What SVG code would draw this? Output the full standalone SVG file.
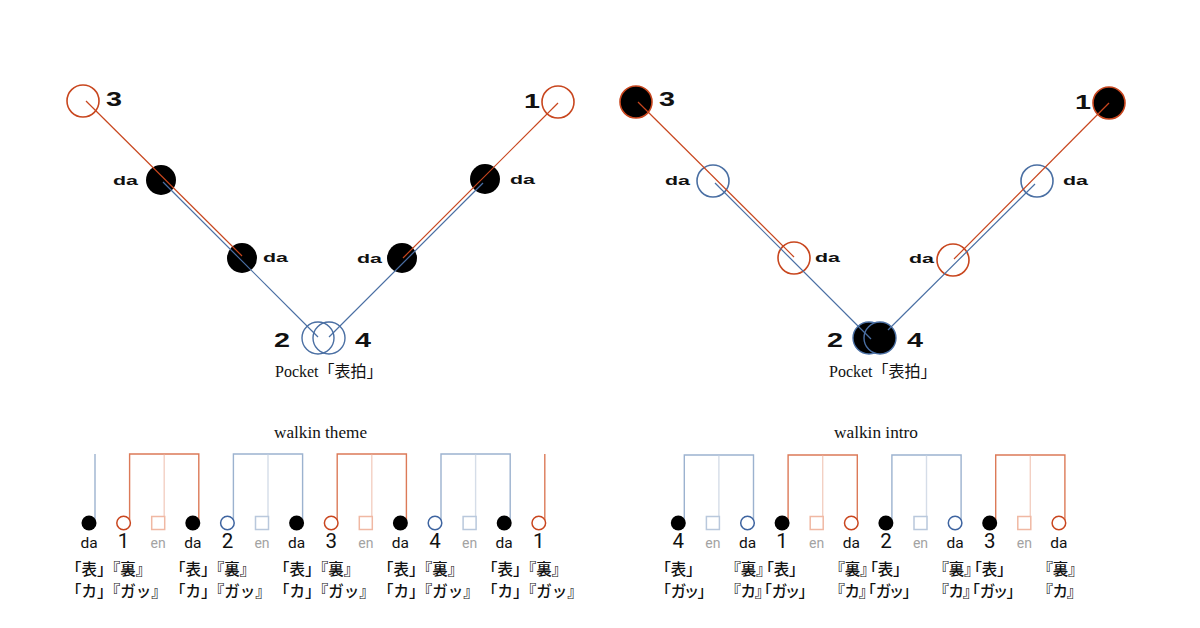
<svg xmlns="http://www.w3.org/2000/svg" width="1200" height="628" viewBox="0 0 1200 628">
<style>
.ol{stroke:#c8461e;stroke-width:1.2;fill:none}
.bl{stroke:#4a6fa3;stroke-width:1.2;fill:none}
.oc{stroke:#c8461e;stroke-width:1.6;fill:#fff}
.ocf{stroke:#c8461e;stroke-width:1.6;fill:#000}
.bc{stroke:#4a6fa3;stroke-width:1.6;fill:#fff}
.bct{stroke:#4a6fa3;stroke-width:1.4;fill:none}
.bcf{stroke:#4a6fa3;stroke-width:1.4;fill:#000}
.dot{fill:#000}
.lbl{font-family:"Liberation Sans",Arial,sans-serif;font-weight:bold;fill:#111}
.da{font-size:13.5px}
.num{font-size:19.5px}
.ser{font-family:"Liberation Serif","Noto Sans CJK JP",serif;font-size:16px;fill:#111}
.tt{font-family:"Liberation Serif",serif;font-size:16px;fill:#111}
.bo{stroke:#dc7a58;stroke-width:1.4;fill:none}
.bom{stroke:#f3d0c3;stroke-width:1.4;fill:none}
.bb{stroke:#9cb2cf;stroke-width:1.4;fill:none}
.bbm{stroke:#d5dde8;stroke-width:1.4;fill:none}
.nd{fill:#000}
.no{stroke:#c9461f;stroke-width:1.5;fill:#fff}
.nb{stroke:#3e64a0;stroke-width:1.5;fill:#fff}
.so{stroke:#f0b8a3;stroke-width:1.5;fill:#fff}
.sb{stroke:#b9c8dc;stroke-width:1.5;fill:#fff}
.t{font-family:Roboto,"Liberation Sans",sans-serif;fill:#111;text-anchor:middle}
.tn{font-size:20.5px}
.td{font-size:15.5px}
.te{font-size:14px;fill:#a3a3a3}
.jp{font-family:"Noto Sans CJK JP",sans-serif;font-size:15.5px;font-weight:500;fill:#111}
.pa{font-feature-settings:"palt"}
</style>

<!-- ===== Upper left diagram ===== -->
<g id="L-n3"><circle class="oc" cx="83" cy="101" r="16"/><text class="lbl num" x="106" y="106" textLength="16" lengthAdjust="spacingAndGlyphs">3</text></g>
<g id="L-da1"><circle class="dot" cx="161" cy="180" r="15"/><text class="lbl da" x="113" y="185" textLength="25" lengthAdjust="spacingAndGlyphs">da</text></g>
<g id="L-da2"><circle class="dot" cx="242" cy="258" r="15"/><text class="lbl da" x="263" y="262" textLength="25" lengthAdjust="spacingAndGlyphs">da</text></g>
<g id="L-da3"><circle class="dot" cx="402" cy="258" r="15"/><text class="lbl da" x="357" y="263" textLength="25" lengthAdjust="spacingAndGlyphs">da</text></g>
<g id="L-da4"><circle class="dot" cx="485" cy="179" r="15"/><text class="lbl da" x="510" y="184" textLength="25" lengthAdjust="spacingAndGlyphs">da</text></g>
<g id="L-n1"><circle class="oc" cx="558" cy="102" r="16"/><text class="lbl num" x="524" y="108" textLength="16" lengthAdjust="spacingAndGlyphs">1</text></g>
<g id="L-pocket">
<circle class="bct" cx="318" cy="338" r="16"/><circle class="bct" cx="329" cy="338" r="16"/>
<text class="lbl num" x="274" y="347" textLength="16" lengthAdjust="spacingAndGlyphs">2</text>
<text class="lbl num" x="355" y="347" textLength="16" lengthAdjust="spacingAndGlyphs">4</text>
<text class="ser" x="275" y="377">Pocket「表拍」</text>
</g>

<!-- ===== Upper right diagram ===== -->
<g id="R-n3"><circle class="ocf" cx="636" cy="102" r="16"/><text class="lbl num" x="659" y="106" textLength="16" lengthAdjust="spacingAndGlyphs">3</text></g>
<g id="R-da1"><circle class="bc" cx="713" cy="181" r="16"/><text class="lbl da" x="665" y="185" textLength="25" lengthAdjust="spacingAndGlyphs">da</text></g>
<g id="R-da2"><circle class="oc" cx="794" cy="258" r="16"/><text class="lbl da" x="815" y="262" textLength="25" lengthAdjust="spacingAndGlyphs">da</text></g>
<g id="R-da3"><circle class="oc" cx="953" cy="260" r="16"/><text class="lbl da" x="909" y="263" textLength="25" lengthAdjust="spacingAndGlyphs">da</text></g>
<g id="R-da4"><circle class="bc" cx="1037" cy="181" r="16"/><text class="lbl da" x="1063" y="185" textLength="25" lengthAdjust="spacingAndGlyphs">da</text></g>
<g id="R-n1"><circle class="ocf" cx="1109" cy="103" r="16"/><text class="lbl num" x="1075" y="109" textLength="16" lengthAdjust="spacingAndGlyphs">1</text></g>
<g id="R-pocket">
<circle class="bcf" cx="869" cy="338" r="16"/><circle class="bcf" cx="880" cy="338" r="16"/>
<text class="lbl num" x="827" y="347" textLength="16" lengthAdjust="spacingAndGlyphs">2</text>
<text class="lbl num" x="907" y="347" textLength="16" lengthAdjust="spacingAndGlyphs">4</text>
<text class="ser" x="829" y="377">Pocket「表拍」</text>
</g>

<!-- ===== Upper connectors ===== -->
<g id="upper-connectors">
<line class="ol" x1="86" y1="101" x2="242" y2="256"/>
<line class="bl" x1="163" y1="182" x2="318" y2="337"/>
<line class="ol" x1="558" y1="103" x2="403" y2="258"/>
<line class="bl" x1="483" y1="183" x2="329" y2="337"/>
<line class="ol" x1="638" y1="102" x2="794" y2="257"/>
<line class="bl" x1="715" y1="183" x2="871" y2="339"/>
<line class="ol" x1="1109" y1="103" x2="954" y2="259"/>
<line class="bl" x1="1035" y1="184" x2="888" y2="330"/>
</g>

<!-- ===== Lower left: walkin theme ===== -->
<text class="tt" x="274" y="438" textLength="93" lengthAdjust="spacingAndGlyphs">walkin theme</text>
<g id="theme-connectors">
<line class="bb" x1="95" y1="454" x2="95" y2="520"/>
<path class="bo" d="M129.6,520V454H198.8V520"/><line class="bom" x1="164.2" y1="454.7" x2="164.2" y2="517"/>
<path class="bb" d="M233.4,520V454H302.6V520"/><line class="bbm" x1="268" y1="454.7" x2="268" y2="517"/>
<path class="bo" d="M337.2,520V454H406.4V520"/><line class="bom" x1="371.8" y1="454.7" x2="371.8" y2="517"/>
<path class="bb" d="M441,520V454H510.2V520"/><line class="bbm" x1="475.6" y1="454.7" x2="475.6" y2="517"/>
<line class="bo" x1="544.8" y1="454" x2="544.8" y2="520"/>
</g>
<g id="theme-n0"><circle class="nd" cx="89" cy="523" r="7.5"/><text class="t td" x="89" y="548">da</text></g>
<g id="theme-n1"><circle class="no" cx="123.6" cy="523" r="6.8"/><text class="t tn" x="123.6" y="548">1</text></g>
<g id="theme-n2"><rect class="so" x="151.7" y="516.5" width="13" height="13"/><text class="t te" x="158.2" y="548">en</text></g>
<g id="theme-n3"><circle class="nd" cx="192.8" cy="523" r="7.5"/><text class="t td" x="192.8" y="548">da</text></g>
<g id="theme-n4"><circle class="nb" cx="227.4" cy="523" r="6.8"/><text class="t tn" x="227.4" y="548">2</text></g>
<g id="theme-n5"><rect class="sb" x="255.5" y="516.5" width="13" height="13"/><text class="t te" x="262" y="548">en</text></g>
<g id="theme-n6"><circle class="nd" cx="296.6" cy="523" r="7.5"/><text class="t td" x="296.6" y="548">da</text></g>
<g id="theme-n7"><circle class="no" cx="331.2" cy="523" r="6.8"/><text class="t tn" x="331.2" y="548">3</text></g>
<g id="theme-n8"><rect class="so" x="359.3" y="516.5" width="13" height="13"/><text class="t te" x="365.8" y="548">en</text></g>
<g id="theme-n9"><circle class="nd" cx="400.4" cy="523" r="7.5"/><text class="t td" x="400.4" y="548">da</text></g>
<g id="theme-n10"><circle class="nb" cx="435" cy="523" r="6.8"/><text class="t tn" x="435" y="548">4</text></g>
<g id="theme-n11"><rect class="sb" x="463.1" y="516.5" width="13" height="13"/><text class="t te" x="469.6" y="548">en</text></g>
<g id="theme-n12"><circle class="nd" cx="504.2" cy="523" r="7.5"/><text class="t td" x="504.2" y="548">da</text></g>
<g id="theme-n13"><circle class="no" cx="538.8" cy="523" r="6.8"/><text class="t tn" x="538.8" y="548">1</text></g>
<g id="theme-lyrics" class="jp">
<text x="66" y="575">「表」『裏』</text><text x="66" y="597">「カ」『ガッ』</text>
<text x="170" y="575">「表」『裏』</text><text x="170" y="597">「カ」『ガッ』</text>
<text x="274" y="575">「表」『裏』</text><text x="274" y="597">「カ」『ガッ』</text>
<text x="378" y="575">「表」『裏』</text><text x="378" y="597">「カ」『ガッ』</text>
<text x="482" y="575">「表」『裏』</text><text x="482" y="597">「カ」『ガッ』</text>
</g>

<!-- ===== Lower right: walkin intro ===== -->
<text class="tt" x="834" y="438" textLength="84" lengthAdjust="spacingAndGlyphs">walkin intro</text>
<g id="intro-connectors">
<path class="bb" d="M684.3,520V455H753.5V520"/><line class="bbm" x1="718.9" y1="455.7" x2="718.9" y2="517"/>
<path class="bo" d="M788.1,520V455H857.3V520"/><line class="bom" x1="822.7" y1="455.7" x2="822.7" y2="517"/>
<path class="bb" d="M891.9,520V455H961.1V520"/><line class="bbm" x1="926.5" y1="455.7" x2="926.5" y2="517"/>
<path class="bo" d="M995.7,520V455H1064.9V520"/><line class="bom" x1="1030.3" y1="455.7" x2="1030.3" y2="517"/>
</g>
<g id="intro-n0"><circle class="nd" cx="678.3" cy="523" r="7.5"/><text class="t tn" x="678.3" y="548">4</text></g>
<g id="intro-n1"><rect class="sb" x="706.4" y="516.5" width="13" height="13"/><text class="t te" x="712.9" y="548">en</text></g>
<g id="intro-n2"><circle class="nb" cx="747.5" cy="523" r="6.8"/><text class="t td" x="747.5" y="548">da</text></g>
<g id="intro-n3"><circle class="nd" cx="782.1" cy="523" r="7.5"/><text class="t tn" x="782.1" y="548">1</text></g>
<g id="intro-n4"><rect class="so" x="810.2" y="516.5" width="13" height="13"/><text class="t te" x="816.7" y="548">en</text></g>
<g id="intro-n5"><circle class="no" cx="851.3" cy="523" r="6.8"/><text class="t td" x="851.3" y="548">da</text></g>
<g id="intro-n6"><circle class="nd" cx="885.9" cy="523" r="7.5"/><text class="t tn" x="885.9" y="548">2</text></g>
<g id="intro-n7"><rect class="sb" x="914" y="516.5" width="13" height="13"/><text class="t te" x="920.5" y="548">en</text></g>
<g id="intro-n8"><circle class="nb" cx="955.1" cy="523" r="6.8"/><text class="t td" x="955.1" y="548">da</text></g>
<g id="intro-n9"><circle class="nd" cx="989.7" cy="523" r="7.5"/><text class="t tn" x="989.7" y="548">3</text></g>
<g id="intro-n10"><rect class="so" x="1017.8" y="516.5" width="13" height="13"/><text class="t te" x="1024.3" y="548">en</text></g>
<g id="intro-n11"><circle class="no" cx="1058.9" cy="523" r="6.8"/><text class="t td" x="1058.9" y="548">da</text></g>
<g id="intro-lyrics" class="jp pa">
<text x="663" y="575">「表」</text><text x="663" y="597">「ガッ」</text>
<text x="733" y="575">『裏』</text><text x="733" y="597">『カ』</text>
<text x="766" y="575">「表」</text><text x="764" y="597">「ガッ」</text>
<text x="837" y="575">『裏』</text><text x="837" y="597">『カ』</text>
<text x="870" y="575">「表」</text><text x="868" y="597">「ガッ」</text>
<text x="941" y="575">『裏』</text><text x="941" y="597">『カ』</text>
<text x="974" y="575">「表」</text><text x="972" y="597">「ガッ」</text>
<text x="1045" y="575">『裏』</text><text x="1045" y="597">『カ』</text>
</g>
</svg>
